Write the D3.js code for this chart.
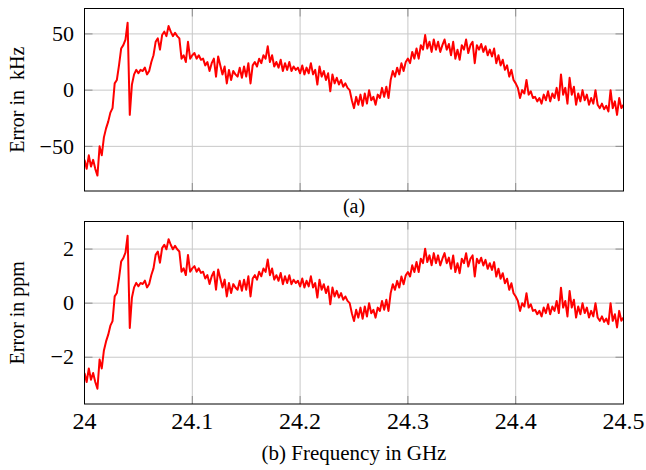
<!DOCTYPE html>
<html>
<head>
<meta charset="utf-8">
<script src="https://cdn.jsdelivr.net/npm/d3@7"></script>
<style>
  body { margin: 0; background: #fff; }
  svg { display: block; }
</style>
</head>
<body>
<script>
// frequency error in kHz, every 2 MHz from 24.000 to 24.500 GHz
const errKHz = [
  -62, -70, -58, -68, -62, -70, -76, -50, -58, -42,
  -34, -28, -20, -16, 6, 9, 22, 37, 40, 45,
  60, -22, 5, 14, 18, 15, 18, 17, 20, 14,
  17, 25, 31, 43, 46, 36, 49, 52, 48, 57,
  52, 48, 51, 48, 46, 28, 31, 25, 43, 28,
  31, 33, 28, 31, 27, 28, 22, 25, 17, 24,
  28, 12, 30,
  22, 14, 21, 6, 18, 9, 17, 14, 12, 20,
  11, 21, 12, 24, 6, 22, 25, 21, 28, 24,
  31, 28, 39, 25, 31, 21, 25, 20, 27, 17,
  24, 18, 25, 17, 21, 18, 20, 15, 22, 14,
  20, 15, 24, 14, 18, 5, 21, 12, 17, 9,
  15, -1, 14, 6, 11, 5, 9, 3, 6, 2,
  0, -9, -16,
  -6, -13, -4, -14, -3, -12, 0, -9, -6, -13,
  -4, -7, 2, -6, 3, -7, 9, 17, 12, 20,
  14, 24, 17, 25, 28, 24, 34, 28, 37, 28,
  40, 36, 49, 37, 43, 34, 45, 36, 43, 34,
  40, 45, 36, 41, 31, 43, 28, 36, 27, 40,
  36, 45, 33, 40, 43, 24, 40, 36, 41, 34,
  39, 31, 36, 30,
  37, 24, 31, 22, 27, 18, 22, 12, 18, 9,
  6, 2, -7, 0, -3, 9, -4, -1, -7, -6,
  -10, -7, -12, -4, -9, -1, -10, -3, -7, 2,
  -9, 14, -4, 2, -12, 11, -4, 3, -13, -3,
  -10, 0, -9, -4, -13, -7, -12, 0, -13, -16,
  -12, -17, -14, -19, 0, -16, -10, -22, -7, -16,
  -13
];

const xTicks = [24, 24.1, 24.2, 24.3, 24.4, 24.5];
const xTickLabels = ["24", "24.1", "24.2", "24.3", "24.4", "24.5"];
const kHzTicks = [-50, 0, 50];
const kHzTickLabels = ["\u221250", "0", "50"];
const ppmTicks = [-2, 0, 2];
const ppmTickLabels = ["\u22122", "0", "2"];

const freqGHz = d3.range(errKHz.length).map(i => 24 + i * 0.002);
// kHz / GHz = ppm
const errPPM = errKHz.map((v, i) => v / freqGHz[i]);

const W = 646, H = 470;
const left = 84.5, right = 623.5;
const serif = "'Liberation Serif', 'DejaVu Serif', 'Times New Roman', serif";

const svg = d3.select("body").append("svg")
  .attr("width", W)
  .attr("height", H)
  .attr("font-family", serif);

const x = d3.scaleLinear().domain([24, 24.5]).range([left, right]);

function panel(id, values, yDomain, top, bottom, ticks, tickLabels, ylabel)
{
  const y = d3.scaleLinear().domain(yDomain).range([bottom, top]);
  const g = svg.append("g");

  g.append("clipPath").attr("id", id)
    .append("rect")
    .attr("x", left).attr("y", top)
    .attr("width", right - left).attr("height", bottom - top);

  // grid
  g.append("g")
    .selectAll("line")
    .data(xTicks.slice(1, -1))
    .join("line")
    .attr("x1", d => x(d)).attr("x2", d => x(d))
    .attr("y1", top).attr("y2", bottom)
    .attr("stroke", "#c8c8c8").attr("stroke-width", 1);

  g.append("g")
    .selectAll("line")
    .data(ticks)
    .join("line")
    .attr("x1", left).attr("x2", right)
    .attr("y1", d => y(d)).attr("y2", d => y(d))
    .attr("stroke", "#c8c8c8").attr("stroke-width", 1);

  // inward ticks on all four sides
  const tk = 8;
  const tg = g.append("g").attr("stroke", "#8c8c8c").attr("stroke-width", 1);
  for(const t of xTicks)
  {
    tg.append("line").attr("x1", x(t)).attr("x2", x(t)).attr("y1", top).attr("y2", top + tk);
    tg.append("line").attr("x1", x(t)).attr("x2", x(t)).attr("y1", bottom).attr("y2", bottom - tk);
  }
  for(const t of ticks)
  {
    tg.append("line").attr("x1", left).attr("x2", left + tk).attr("y1", y(t)).attr("y2", y(t));
    tg.append("line").attr("x1", right).attr("x2", right - tk).attr("y1", y(t)).attr("y2", y(t));
  }

  // data
  g.append("path")
    .datum(values)
    .attr("clip-path", `url(#${id})`)
    .attr("fill", "none")
    .attr("stroke", "#ff0000")
    .attr("stroke-width", 2)
    .attr("stroke-linejoin", "round")
    .attr("d", d3.line().x((d, i) => x(freqGHz[i])).y(d => y(d)));

  // frame
  g.append("rect")
    .attr("x", left).attr("y", top)
    .attr("width", right - left).attr("height", bottom - top)
    .attr("fill", "none").attr("stroke", "#000").attr("stroke-width", 1);

  // y tick labels
  g.append("g")
    .selectAll("text")
    .data(ticks)
    .join("text")
    .attr("x", 74)
    .attr("y", d => y(d))
    .attr("dy", "0.33em")
    .attr("text-anchor", "end")
    .attr("font-size", 22)
    .text((d, i) => tickLabels[i]);

  g.append("text")
    .attr("transform", `translate(24,${(top + bottom) / 2}) rotate(-90)`)
    .attr("text-anchor", "middle")
    .attr("font-size", 20)
    .text(ylabel);

  return y;
}

panel("clipA", errKHz, [-89.7, 72.6], 8.5, 191, kHzTicks, kHzTickLabels, "Error in\u00a0 kHz");
panel("clipB", errPPM, [-3.73, 3.02], 221.5, 404, ppmTicks, ppmTickLabels, "Error in ppm");

// x tick labels under the lower panel
svg.append("g")
  .selectAll("text")
  .data(xTicks)
  .join("text")
  .attr("x", d => x(d))
  .attr("y", 429)
  .attr("text-anchor", "middle")
  .attr("font-size", 24)
  .text((d, i) => xTickLabels[i]);

svg.append("text")
  .attr("x", 354).attr("y", 213)
  .attr("text-anchor", "middle")
  .attr("font-size", 20)
  .text("(a)");

svg.append("text")
  .attr("x", 354).attr("y", 460)
  .attr("text-anchor", "middle")
  .attr("font-size", 21)
  .text("(b) Frequency in GHz");
</script>
</body>
</html>
